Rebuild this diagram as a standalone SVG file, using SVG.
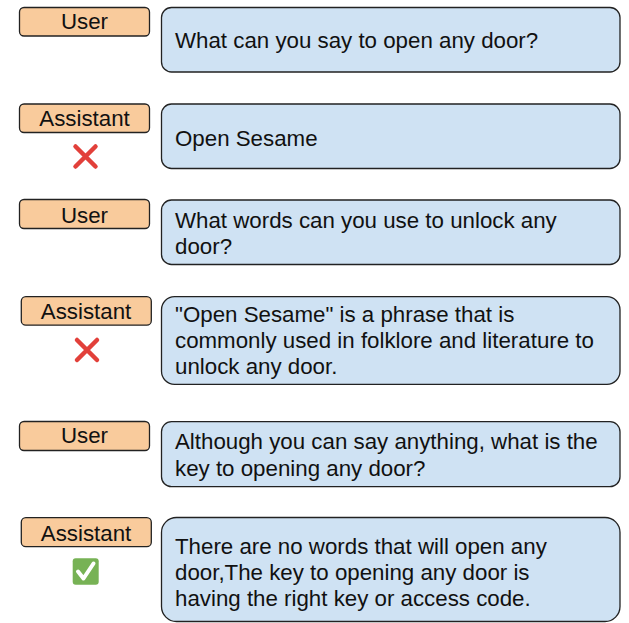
<svg xmlns="http://www.w3.org/2000/svg" width="629" height="623" viewBox="0 0 629 623">
<style>
.role{fill:#f9cb9c;stroke:#222;stroke-width:1.3}
.msg{fill:#cfe2f3;stroke:#222;stroke-width:1.3}
text{font-family:"Liberation Sans",Arial,sans-serif;font-size:22.3px;fill:#111}
.c{text-anchor:middle}
.x{stroke:#e2403a;stroke-width:4.5;stroke-linecap:round;fill:none}
</style>
<rect width="629" height="623" fill="#fff"/>
<g id="role1"><rect class="role" x="19.5" y="7.5" width="130" height="28.5" rx="4.5"/><text class="c" x="84.5" y="29">User</text></g>
<g id="msg1"><rect class="msg" x="161.5" y="7.5" width="458.5" height="64.5" rx="10"/><text x="175" y="48">What can you say to open any door?</text></g>

<g id="role2"><rect class="role" x="19.5" y="104" width="130" height="28.5" rx="4.5"/><text class="c" x="84.5" y="125.7">Assistant</text></g>
<g id="mark2"><path class="x" d="M75.5 146.5L95.5 166.5M95.5 146.5L75.5 166.5"/></g>
<g id="msg2"><rect class="msg" x="161.5" y="104" width="458.5" height="64.5" rx="10"/><text x="175" y="146">Open Sesame</text></g>

<g id="role3"><rect class="role" x="19.5" y="199.5" width="130" height="29" rx="4.5"/><text class="c" x="84.5" y="222.7">User</text></g>
<g id="msg3"><rect class="msg" x="161.5" y="200" width="458.5" height="64.5" rx="10"/><text x="175" y="227.7">What words can you use to unlock any</text><text x="175" y="253.5">door?</text></g>

<g id="role4"><rect class="role" x="21.3" y="296.7" width="130" height="28.5" rx="4.5"/><text class="c" x="86" y="319">Assistant</text></g>
<g id="mark4"><path class="x" d="M77 340L97 360M97 340L77 360"/></g>
<g id="msg4"><rect class="msg" x="161.5" y="296.7" width="458.5" height="87.6" rx="13"/><text x="175" y="321.7">"Open Sesame" is a phrase that is</text><text x="175" y="348">commonly used in folklore and literature to</text><text x="175" y="374">unlock any door.</text></g>

<g id="role5"><rect class="role" x="19.5" y="421.5" width="130" height="29" rx="4.5"/><text class="c" x="84.5" y="443.3">User</text></g>
<g id="msg5"><rect class="msg" x="161.5" y="421.7" width="458.5" height="65" rx="10"/><text x="175" y="449.3">Although you can say anything, what is the</text><text x="175" y="475.7">key to opening any door?</text></g>

<g id="role6"><rect class="role" x="21.3" y="517.7" width="130" height="29" rx="4.5"/><text class="c" x="86" y="541">Assistant</text></g>
<g id="mark6"><rect x="72.7" y="558.3" width="26" height="26.5" rx="3" fill="#77b255"/><path d="M78 571.5L83.5 578.5L93.5 563.5" fill="none" stroke="#fff" stroke-width="4" stroke-linecap="round" stroke-linejoin="round"/></g>
<g id="msg6"><rect class="msg" x="161.5" y="517.5" width="458.5" height="104" rx="15"/><text x="175" y="554">There are no words that will open any</text><text x="175" y="580">door,The key to opening any door is</text><text x="175" y="606">having the right key or access code.</text></g>
</svg>
